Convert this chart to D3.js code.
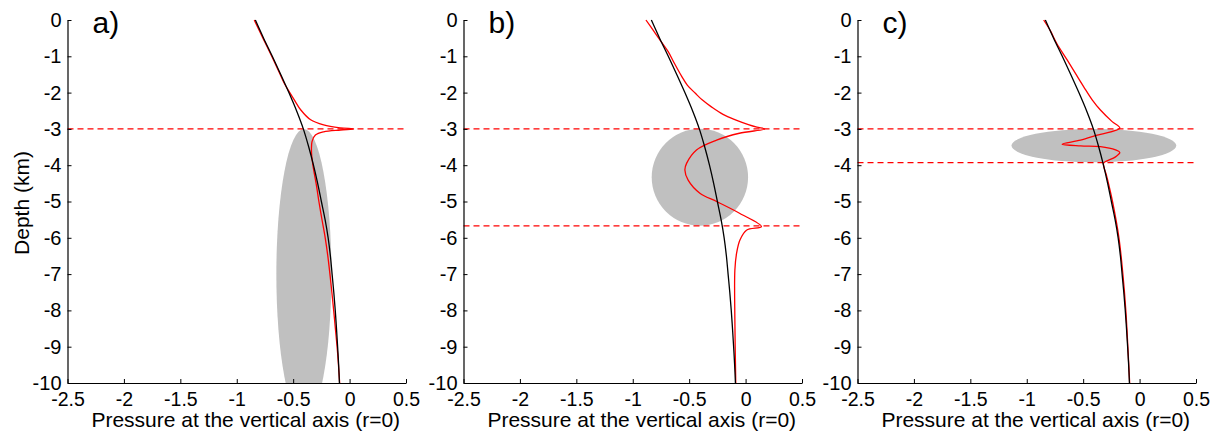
<!DOCTYPE html>
<html>
<head>
<meta charset="utf-8">
<script src="https://cdn.jsdelivr.net/npm/d3@7"></script>
<style>
  html, body { margin: 0; padding: 0; background: #fff; }
  svg { display: block; }
  text { font-family: Arial, "Liberation Sans", sans-serif; fill: #000; }
</style>
</head>
<body>
<svg id="chart" width="1222" height="432"></svg>
<script>
// ---------- data ----------
const panelLabels = ["a)", "b)", "c)"];
const xTicks = [-2.5, -2, -1.5, -1, -0.5, 0, 0.5];
const yTicks = [0, -1, -2, -3, -4, -5, -6, -7, -8, -9, -10];
const xTitle = "Pressure at the vertical axis (r=0)";
const yTitle = "Depth (km)";

// reference (black) curve: depth (km) and pressure
const blackDepth = [0, -0.5, -1, -1.5, -2, -2.5, -3, -3.5, -4, -4.5, -5, -5.5, -6, -6.5, -7, -7.5, -8, -8.5, -9, -9.5, -10];
const blackP     = [-0.835, -0.762, -0.685, -0.61, -0.538, -0.47, -0.41, -0.362, -0.32, -0.283, -0.25, -0.217, -0.19, -0.17, -0.155, -0.14, -0.127, -0.116, -0.106, -0.097, -0.09];

// red curves (one per panel)
const redDepthA = [0, -0.5, -1, -1.5, -1.75, -2.0, -2.2, -2.48, -2.75, -2.89, -2.97, -3.0, -3.03, -3.08, -3.17, -3.35, -3.67, -4.0, -4.59, -5.0, -5.51, -6.0, -6.5, -7.35, -8.0, -8.5, -9.18, -10];
const redPA     = [-0.845, -0.768, -0.69, -0.615, -0.578, -0.53, -0.49, -0.432, -0.345, -0.23, -0.082, 0.036, -0.08, -0.23, -0.303, -0.333, -0.337, -0.325, -0.292, -0.272, -0.244, -0.216, -0.193, -0.162, -0.141, -0.126, -0.106, -0.088];

const redDepthB = [0, -0.3, -0.6, -0.87, -1.2, -1.56, -1.8, -2.02, -2.2, -2.4, -2.6, -2.75, -2.88, -2.95, -3.0, -3.12, -3.31, -3.58, -3.95, -4.13, -4.41, -4.77, -5.0, -5.33, -5.69, -5.79, -6.06, -6.43, -6.89, -8.26, -10];
const redPB     = [-0.883, -0.815, -0.747, -0.686, -0.63, -0.565, -0.515, -0.445, -0.385, -0.30, -0.20, -0.09, 0.025, 0.10, 0.17, -0.055, -0.257, -0.435, -0.523, -0.538, -0.509, -0.405, -0.257, -0.05, 0.14, 0.008, -0.05, -0.08, -0.095, -0.095, -0.087];

const redDepthC = [0, -0.3, -0.64, -1.1, -1.5, -1.84, -2.2, -2.48, -2.8, -2.98, -3.17, -3.31, -3.42, -3.47, -3.49, -3.58, -3.65, -3.77, -3.9, -3.95, -4.32, -5, -6, -7, -8, -9, -10];
const redPC     = [-0.85, -0.79, -0.735, -0.642, -0.563, -0.495, -0.42, -0.347, -0.243, -0.175, -0.376, -0.524, -0.687, -0.524, -0.347, -0.213, -0.175, -0.213, -0.302, -0.32, -0.29, -0.24, -0.183, -0.148, -0.122, -0.104, -0.088];

// dashed horizontal markers (depth)
const dashA = [-3];
const dashB = [-3, -5.67];
const dashC = [-3, -3.93];

// gray source bodies: centre pressure, centre depth, semi-axis (pressure units), semi-axis (km)
const bodyCx = [-0.405, -0.405, -0.405];
const bodyCy = [-7.0, -4.33, -3.46];
const bodyRx = [0.244, 0.427, 0.73];
const bodyRy = [4.0, 1.335, 0.46];

// ---------- layout ----------
const panelLeft = [67.5, 463.5, 857.5];
const panelW = 338.5;
const plotTop = 20, plotBottom = 383;

const svg = d3.select("#chart");
const redDepths = [redDepthA, redDepthB, redDepthC];
const redPs = [redPA, redPB, redPC];
const dashes = [dashA, dashB, dashC];

panelLeft.forEach((left, i) => {
  const x = d3.scaleLinear().domain([-2.5, 0.5]).range([left, left + panelW]);
  const y = d3.scaleLinear().domain([0, -10]).range([plotTop, plotBottom]);

  const g = svg.append("g");
  const clipId = "clip" + i;
  svg.append("clipPath").attr("id", clipId)
    .append("rect").attr("x", left).attr("y", plotTop)
    .attr("width", panelW).attr("height", plotBottom - plotTop);

  // gray body
  g.append("ellipse")
    .attr("clip-path", `url(#${clipId})`)
    .attr("cx", x(bodyCx[i])).attr("cy", y(bodyCy[i]))
    .attr("rx", x(bodyCx[i] + bodyRx[i]) - x(bodyCx[i]))
    .attr("ry", y(bodyCy[i] - bodyRy[i]) - y(bodyCy[i]))
    .attr("fill", "#c0c0c0");

  // dashed markers
  g.selectAll(".dash").data(dashes[i]).enter().append("line")
    .attr("x1", x(-2.5)).attr("x2", x(0.5))
    .attr("y1", d => y(d)).attr("y2", d => y(d))
    .attr("stroke", "#ff0000").attr("stroke-width", 1.3)
    .attr("stroke-dasharray", "6,4");

  const line = d3.line()
    .x(d => x(d[1])).y(d => y(d[0]))
    .curve(d3.curveCatmullRom.alpha(0.5));

  // red curve
  const redData = redDepths[i].map((d, k) => [d, redPs[i][k]]);
  g.append("path").datum(redData).attr("d", line)
    .attr("fill", "none").attr("stroke", "#ff0000").attr("stroke-width", 1.3);

  // black curve
  const blackData = blackDepth.map((d, k) => [d, blackP[k]]);
  g.append("path").datum(blackData).attr("d", line)
    .attr("fill", "none").attr("stroke", "#000").attr("stroke-width", 1.3);

  // axes
  const xAxis = d3.axisBottom(x).tickValues(xTicks)
    .tickSizeInner(-4).tickSizeOuter(0).tickPadding(10)
    .tickFormat(d => String(d));
  const gx = svg.append("g").attr("transform", `translate(0,${plotBottom})`).call(xAxis);
  gx.select(".domain").attr("stroke", "#000").attr("stroke-width", 1.2);
  gx.selectAll(".tick line").attr("stroke", "#000");
  gx.selectAll(".tick text").attr("font-size", 19.5).attr("font-family", "Arial, 'Liberation Sans', sans-serif")
    .attr("dy", "0.71em").attr("y", 9);

  const yAxis = d3.axisLeft(y).tickValues(yTicks)
    .tickSizeInner(-4).tickSizeOuter(0).tickPadding(10)
    .tickFormat(d => String(d));
  const gy = svg.append("g").attr("transform", `translate(${left},0)`).call(yAxis);
  gy.select(".domain").attr("stroke", "#000").attr("stroke-width", 1.2);
  gy.selectAll(".tick line").attr("stroke", "#000");
  gy.selectAll(".tick text").attr("font-size", 20).attr("font-family", "Arial, 'Liberation Sans', sans-serif")
    .attr("x", -6);

  // x title
  svg.append("text")
    .attr("x", left + panelW / 2 + 9).attr("y", 427)
    .attr("text-anchor", "middle").attr("font-size", 21)
    .text(xTitle);

  // panel label
  svg.append("text")
    .attr("x", left + 25).attr("y", 33)
    .attr("font-size", 30)
    .text(panelLabels[i]);
});

// y title (only first panel)
svg.append("text")
  .attr("transform", "translate(29,203) rotate(-90)")
  .attr("text-anchor", "middle").attr("font-size", 21)
  .text(yTitle);
</script>
</body>
</html>
